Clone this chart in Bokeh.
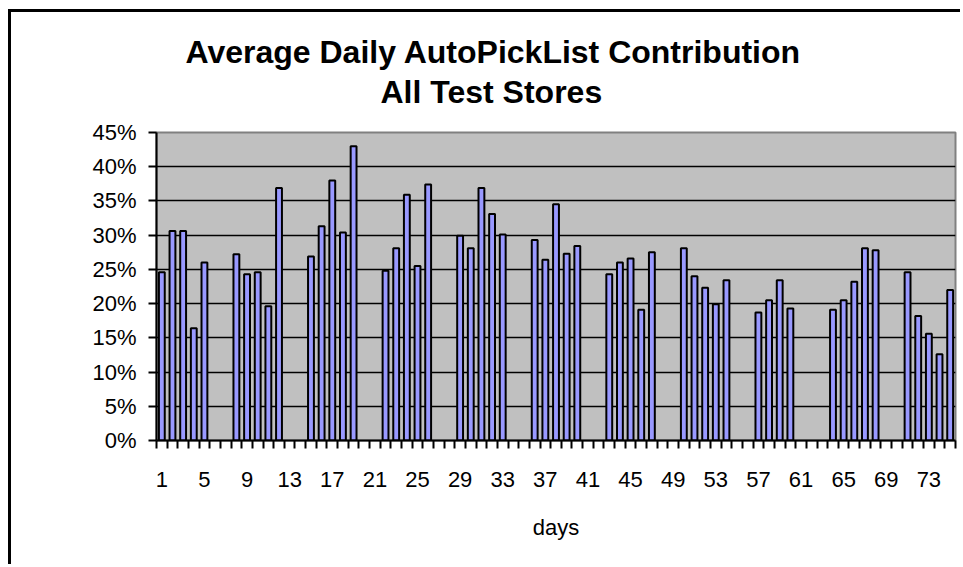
from bokeh.plotting import figure
from bokeh.models import FixedTicker, PrintfTickFormatter, Range1d, Title, ColumnDataSource
from bokeh.embed import file_html
from bokeh.resources import INLINE

# ---- data ----
days = [1, 2, 3, 4, 5,
        8, 9, 10, 11, 12,
        15, 16, 17, 18, 19,
        22, 23, 24, 25, 26,
        29, 30, 31, 32, 33,
        36, 37, 38, 39, 40,
        43, 44, 45, 46, 47,
        50, 51, 52, 53, 54,
        57, 58, 59, 60,
        64, 65, 66, 67, 68,
        71, 72, 73, 74, 75]
contribution_pct = [24.6, 30.6, 30.6, 16.4, 26.0,
                    27.2, 24.3, 24.6, 19.6, 36.9,
                    26.9, 31.3, 38.0, 30.4, 43.0,
                    24.8, 28.1, 35.9, 25.5, 37.4,
                    29.9, 28.1, 36.9, 33.1, 30.1,
                    29.3, 26.4, 34.5, 27.3, 28.4,
                    24.3, 26.0, 26.6, 19.1, 27.5,
                    28.1, 24.0, 22.3, 19.9, 23.4,
                    18.7, 20.5, 23.4, 19.3,
                    19.1, 20.5, 23.2, 28.1, 27.8,
                    24.6, 18.2, 15.6, 12.6, 22.0]
x_tick_days = [1, 5, 9, 13, 17, 21, 25, 29, 33, 37, 41, 45, 49, 53, 57, 61, 65, 69, 73]
y_ticks_pct = [0, 5, 10, 15, 20, 25, 30, 35, 40, 45]
n_days = 75
title_line1 = "Average Daily AutoPickList Contribution"
title_line2 = "All Test Stores"
x_label = "days"

FONT = "Liberation Sans"

source = ColumnDataSource(data=dict(day=days, pct=contribution_pct))

p = figure(width=952, height=555, output_backend="svg", toolbar_location=None,
           x_range=Range1d(0.5, n_days + 0.5), y_range=Range1d(0, 45),
           title=None,
           min_border_left=145, min_border_right=8, min_border_top=120, min_border_bottom=127,
           background_fill_color="#C0C0C0", border_fill_color="white",
           styles={"margin-left": "8px", "margin-top": "9px",
                   "border-left": "3px solid black", "border-top": "3px solid black"})

p.vbar(x="day", top="pct", width=0.55, bottom=0, source=source,
       fill_color="#9999FF", line_color="black", line_width=2)

# titles: spacer next to the frame, then line 2, then line 1 on top
spacer = Title(text=" ", text_font=FONT, text_font_size="1px", standoff=18)
t2 = Title(text=title_line2, align="left", offset=224, text_font=FONT,
           text_font_size="32px", text_font_style="bold", text_color="black", standoff=4)
t1 = Title(text=title_line1, align="left", offset=29, text_font=FONT,
           text_font_size="32px", text_font_style="bold", text_color="black", standoff=0)
p.add_layout(spacer, "above")
p.add_layout(t2, "above")
p.add_layout(t1, "above")

# grid
p.xgrid.visible = False
p.ygrid.ticker = FixedTicker(ticks=y_ticks_pct)
p.ygrid.grid_line_color = "black"
p.ygrid.grid_line_width = 1.5

p.outline_line_color = "#808080"
p.outline_line_width = 2

# y axis
ya = p.yaxis[0]
ya.ticker = FixedTicker(ticks=y_ticks_pct)
ya.formatter = PrintfTickFormatter(format="%d%%")
ya.axis_line_color = "black"
ya.axis_line_width = 2
ya.major_tick_out = 8
ya.major_tick_in = 0
ya.major_tick_line_width = 2
ya.minor_tick_line_color = None
ya.major_label_text_font = FONT
ya.major_label_text_font_size = "22px"
ya.major_label_text_color = "black"
ya.major_label_standoff = 12

# x axis
xa = p.xaxis[0]
xa.ticker = FixedTicker(ticks=x_tick_days,
                        minor_ticks=[d + 0.5 for d in range(0, n_days + 1)])
xa.axis_line_color = "black"
xa.axis_line_width = 2
xa.major_tick_line_color = None
xa.major_tick_out = 8
xa.major_tick_in = 0
xa.minor_tick_out = 8
xa.minor_tick_in = 0
xa.minor_tick_line_color = "black"
xa.minor_tick_line_width = 2
xa.major_label_text_font = FONT
xa.major_label_text_font_size = "22px"
xa.major_label_text_color = "black"
xa.major_label_standoff = 23
xa.axis_label = x_label
xa.axis_label_text_font = FONT
xa.axis_label_text_font_size = "22px"
xa.axis_label_text_font_style = "normal"
xa.axis_label_text_color = "black"
xa.axis_label_standoff = 25

open("out.html", "w").write(file_html(p, INLINE))
